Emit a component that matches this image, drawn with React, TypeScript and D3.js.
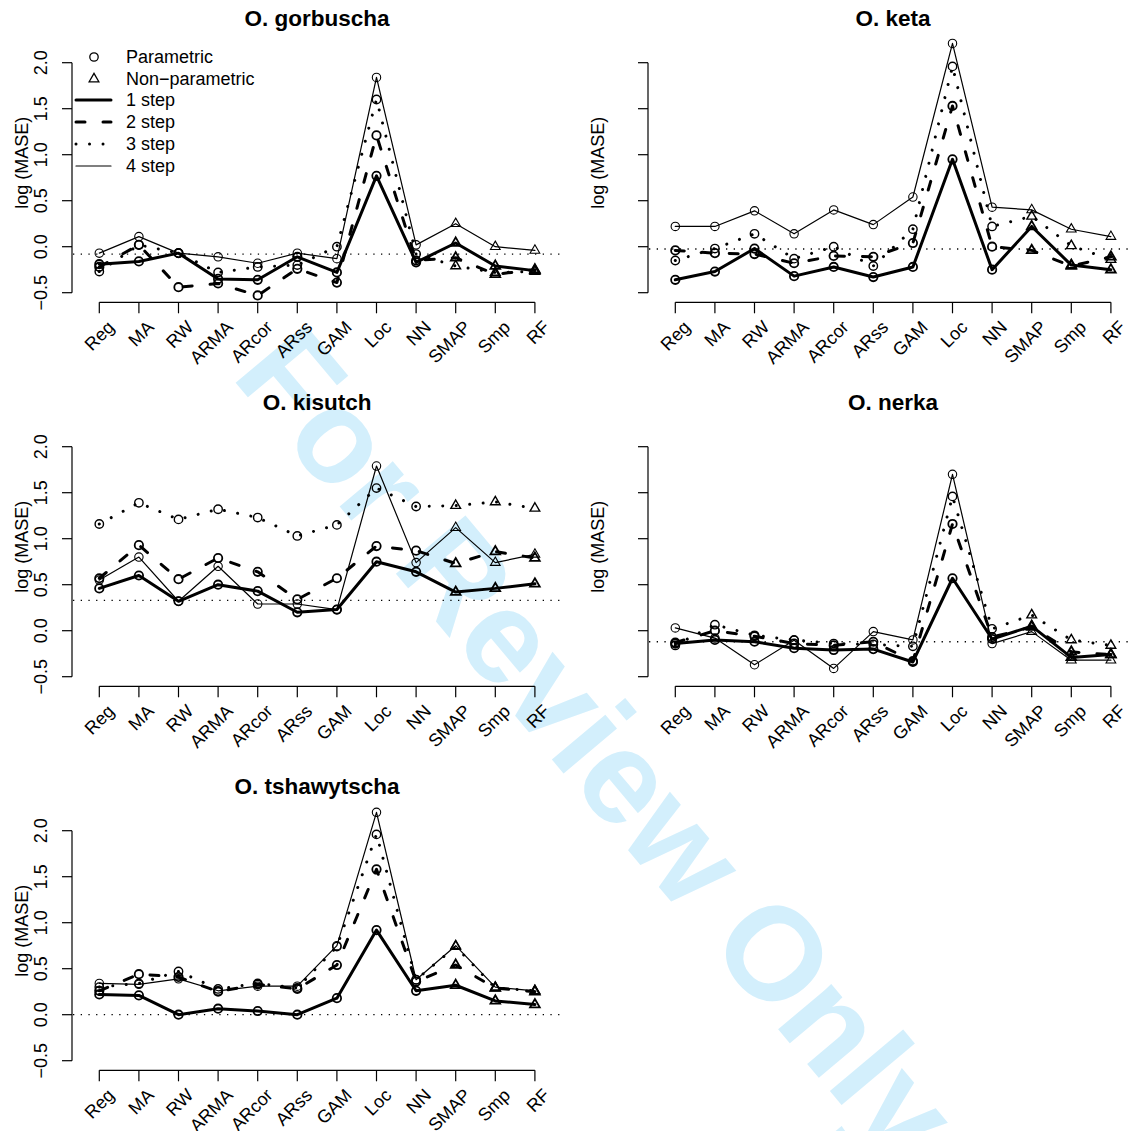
import React from "react";
import * as d3 from "d3";

const categories = ["Reg", "MA", "RW", "ARMA", "ARcor", "ARss", "GAM", "Loc", "NN", "SMAP", "Smp", "RF"];
const parametricModels = ["Reg", "MA", "RW", "ARMA", "ARcor", "ARss", "GAM", "Loc", "NN"];
const yTicks = [-0.5, 0, 0.5, 1, 1.5, 2];
const yTickLabels = ["\u22120.5", "0.0", "0.5", "1.0", "1.5", "2.0"];
const stepNames = ["1 step", "2 step", "3 step", "4 step"];

// O. gorbuscha
const gorbuschaStep1 = [-0.19, -0.16, -0.07, -0.35, -0.36, -0.11, -0.28, 0.77, -0.17, 0.04, -0.21, -0.26];
const gorbuschaStep2 = [-0.22, 0.02, -0.44, -0.4, -0.53, -0.24, -0.39, 1.21, -0.15, -0.12, -0.3, -0.25];
const gorbuschaStep3 = [-0.27, 0.02, -0.07, -0.28, -0.22, -0.2, 0.0, 1.6, -0.08, -0.21, -0.28, -0.27];
const gorbuschaStep4 = [-0.07, 0.11, -0.07, -0.11, -0.18, -0.07, -0.13, 1.84, 0.02, 0.25, 0.0, -0.04];
const gorbuschaRef = -0.08;

// O. keta
const ketaStep1 = [-0.36, -0.27, -0.02, -0.32, -0.22, -0.33, -0.22, 0.95, -0.25, 0.22, -0.2, -0.25];
const ketaStep2 = [-0.04, -0.07, -0.08, -0.18, -0.1, -0.11, 0.04, 1.53, 0.0, -0.04, -0.21, -0.11];
const ketaStep3 = [-0.15, -0.02, 0.14, -0.13, 0.0, -0.21, 0.19, 1.96, 0.22, 0.33, 0.01, -0.14];
const ketaStep4 = [0.22, 0.22, 0.39, 0.14, 0.4, 0.24, 0.54, 2.21, 0.43, 0.4, 0.19, 0.11];
const ketaRef = -0.025;

// O. kisutch
const kisutchStep1 = [0.46, 0.6, 0.32, 0.5, 0.43, 0.2, 0.23, 0.75, 0.64, 0.42, 0.46, 0.51];
const kisutchStep2 = [0.57, 0.93, 0.56, 0.79, 0.64, 0.34, 0.57, 0.92, 0.87, 0.73, 0.86, 0.79];
const kisutchStep3 = [1.16, 1.39, 1.21, 1.32, 1.23, 1.03, 1.15, 1.55, 1.35, 1.36, 1.4, 1.33];
const kisutchStep4 = [0.55, 0.8, 0.32, 0.7, 0.29, 0.29, 0.23, 1.79, 0.74, 1.12, 0.74, 0.83];
const kisutchRef = 0.33;

// O. nerka
const nerkaStep1 = [-0.14, -0.1, -0.12, -0.19, -0.21, -0.2, -0.34, 0.57, -0.09, 0.05, -0.29, -0.26];
const nerkaStep2 = [-0.13, 0.0, -0.06, -0.14, -0.16, -0.12, -0.33, 1.16, -0.07, 0.04, -0.23, -0.26];
const nerkaStep3 = [-0.16, 0.065, -0.05, -0.1, -0.14, -0.15, -0.17, 1.46, 0.02, 0.17, -0.1, -0.16];
const nerkaStep4 = [0.03, -0.08, -0.37, -0.105, -0.41, -0.01, -0.1, 1.7, -0.14, -0.01, -0.32, -0.32];
const nerkaRef = -0.12;

// O. tshawytscha
const tshawytschaStep1 = [0.22, 0.21, 0.0, 0.065, 0.04, 0.0, 0.18, 0.92, 0.26, 0.32, 0.15, 0.11];
const tshawytschaStep2 = [0.26, 0.44, 0.41, 0.25, 0.33, 0.28, 0.54, 1.58, 0.36, 0.54, 0.29, 0.25];
const tshawytschaStep3 = [0.3, 0.34, 0.47, 0.28, 0.34, 0.29, 0.74, 1.96, 0.38, 0.74, 0.29, 0.26];
const tshawytschaStep4 = [0.34, 0.33, 0.39, 0.26, 0.31, 0.31, 0.75, 2.2, 0.38, 0.75, 0.3, 0.26];
const tshawytschaRef = 0.0;

const panels = [
  { title: "O. gorbuscha", col: 0, row: 0, steps: [gorbuschaStep1, gorbuschaStep2, gorbuschaStep3, gorbuschaStep4], ref: gorbuschaRef, legend: true },
  { title: "O. keta", col: 1, row: 0, steps: [ketaStep1, ketaStep2, ketaStep3, ketaStep4], ref: ketaRef, legend: false },
  { title: "O. kisutch", col: 0, row: 1, steps: [kisutchStep1, kisutchStep2, kisutchStep3, kisutchStep4], ref: kisutchRef, legend: false },
  { title: "O. nerka", col: 1, row: 1, steps: [nerkaStep1, nerkaStep2, nerkaStep3, nerkaStep4], ref: nerkaRef, legend: false },
  { title: "O. tshawytscha", col: 0, row: 2, steps: [tshawytschaStep1, tshawytschaStep2, tshawytschaStep3, tshawytschaStep4], ref: tshawytschaRef, legend: false },
];

const FONT = "'Liberation Sans', Arial, Helvetica, sans-serif";
const lineStyles = [
  { width: 3, dash: undefined as string | undefined, marker: 1.8 },
  { width: 3, dash: "9 18", marker: 1.8 },
  { width: 3, dash: "0.01 13.5", marker: 1.4 },
  { width: 1.2, dash: undefined as string | undefined, marker: 1.1 },
];

function Marker({ x, y, tri, sw }: { x: number; y: number; tri: boolean; sw: number }) {
  if (tri) {
    const r = 5.6;
    const pts = [
      [x, y - r],
      [x + r * 0.866, y + r * 0.5],
      [x - r * 0.866, y + r * 0.5],
    ];
    return <polygon points={pts.map((p) => p.join(",")).join(" ")} fill="none" stroke="#000" strokeWidth={sw} />;
  }
  return <circle cx={x} cy={y} r={4.2} fill="none" stroke="#000" strokeWidth={sw} />;
}

function Panel({ p }: { p: (typeof panels)[number] }) {
  const axisX = 72 + p.col * 576;
  const y2 = 62.7 + p.row * 384;
  const y = d3.scaleLinear().domain([-0.5, 2.0]).range([y2 + 230, y2]);
  const x = d3.scalePoint<string>().domain(categories).range([axisX + 27.3, axisX + 27.3 + 11 * 39.6]);
  const xFirst = x(categories[0])!;
  const xLast = x(categories[categories.length - 1])!;
  const xAxisY = y2 + 239.6;
  const plotRight = axisX + 491;
  const line = d3
    .line<number>()
    .x((_, i) => x(categories[i])!)
    .y((v) => y(v));
  const legendX = axisX + 4;
  const legendRows = [57, 79, 100, 122, 144, 166];
  return (
    <g>
      <text x={(xFirst + xLast) / 2} y={y2 - 36.6} textAnchor="middle" fontFamily={FONT} fontWeight="bold" fontSize={22.5}>
        {p.title}
      </text>
      {/* y axis */}
      <line x1={axisX} x2={axisX} y1={y(-0.5)} y2={y(2)} stroke="#000" strokeWidth={1.2} />
      {yTicks.map((t, i) => (
        <g key={i}>
          <line x1={axisX - 10} x2={axisX} y1={y(t)} y2={y(t)} stroke="#000" strokeWidth={1.2} />
          {p.col === 0 && (
            <text
              transform={`translate(${axisX - 25},${y(t)}) rotate(-90)`}
              textAnchor="middle"
              fontFamily={FONT}
              fontSize={18}
            >
              {yTickLabels[i]}
            </text>
          )}
        </g>
      ))}
      <text
        transform={`translate(${axisX - 44},${y2 + 100}) rotate(-90)`}
        textAnchor="middle"
        fontFamily={FONT}
        fontSize={18}
      >
        log (MASE)
      </text>
      {/* x axis */}
      <line x1={xFirst} x2={xLast} y1={xAxisY} y2={xAxisY} stroke="#000" strokeWidth={1.2} />
      {categories.map((c) => (
        <g key={c}>
          <line x1={x(c)!} x2={x(c)!} y1={xAxisY} y2={xAxisY + 11} stroke="#000" strokeWidth={1.2} />
          <text
            transform={`translate(${x(c)! + 16},${xAxisY + 26}) rotate(-45)`}
            textAnchor="end"
            fontFamily={FONT}
            fontSize={18}
          >
            {c}
          </text>
        </g>
      ))}
      {/* reference line */}
      <line x1={axisX + 1} x2={plotRight} y1={y(p.ref)} y2={y(p.ref)} stroke="#000" strokeWidth={1.3} strokeDasharray="1.3 6.4" />
      {/* series */}
      {p.steps.map((vals, si) => (
        <g key={si}>
          <path
            d={line(vals)!}
            fill="none"
            stroke="#000"
            strokeWidth={lineStyles[si].width}
            strokeDasharray={lineStyles[si].dash}
            strokeLinecap="round"
            strokeLinejoin="round"
          />
          {vals.map((v, i) => (
            <Marker key={i} x={x(categories[i])!} y={y(v)} tri={!parametricModels.includes(categories[i])} sw={lineStyles[si].marker} />
          ))}
        </g>
      ))}
      {p.legend && (
        <g fontFamily={FONT} fontSize={18}>
          <circle cx={legendX + 18} cy={legendRows[0]} r={4.2} fill="none" stroke="#000" strokeWidth={1.3} />
          <Marker x={legendX + 18} y={legendRows[1]} tri={true} sw={1.3} />
          <text x={legendX + 50} y={legendRows[0]} dominantBaseline="central">Parametric</text>
          <text x={legendX + 50} y={legendRows[1]} dominantBaseline="central">Non{"\u2212"}parametric</text>
          {stepNames.map((s, i) => (
            <g key={s}>
              <line
                x1={legendX}
                x2={legendX + 35}
                y1={legendRows[i + 2]}
                y2={legendRows[i + 2]}
                stroke="#000"
                strokeWidth={lineStyles[i].width}
                strokeDasharray={lineStyles[i].dash}
                strokeLinecap="round"
              />
              <text x={legendX + 50} y={legendRows[i + 2]} dominantBaseline="central">{s}</text>
            </g>
          ))}
        </g>
      )}
    </g>
  );
}

export default function App() {
  return (
    <div style={{ position: "absolute", left: 0, top: 0 }}>
      <svg width={1132} height={1131} viewBox="0 0 1132 1131" style={{ display: "block", background: "#fff" }}>
        <rect x={0} y={0} width={1132} height={1131} fill="#fff" />
        <text
          transform="translate(230,376) rotate(50)"
          fontFamily={FONT}
          fontWeight="bold"
          fontSize={132}
          fill="#d3effc"
        >
          For Review Only
        </text>
        {panels.map((p) => (
          <Panel key={p.title} p={p} />
        ))}
      </svg>
    </div>
  );
}
